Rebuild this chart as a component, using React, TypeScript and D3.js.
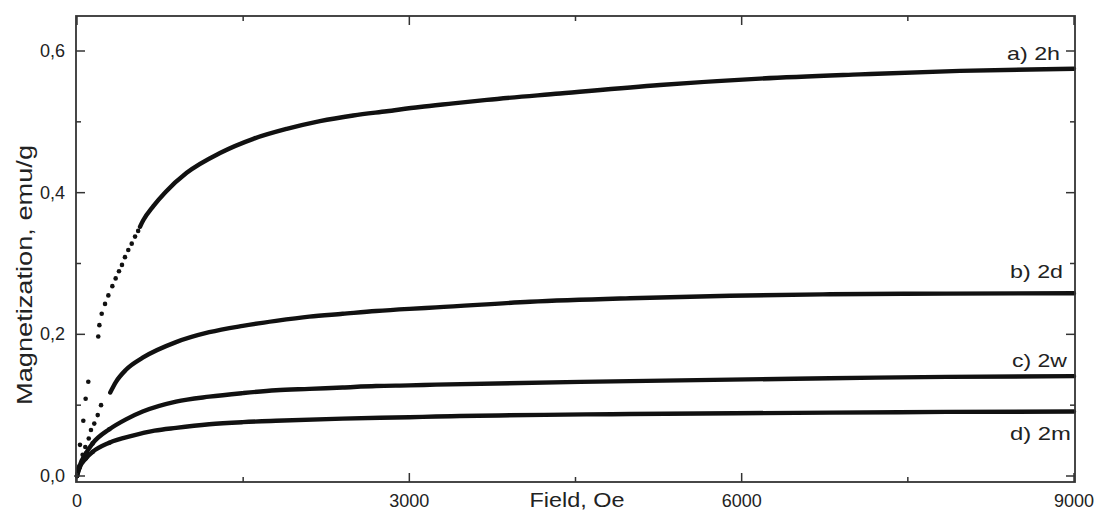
import React from "react";
import * as d3 from "d3";

// values: [field (Oe), magnetization (emu/g)]
// low-field points are sparse and show as single dots; the rest is a dense trace
const dots2h: [number, number][] = [
  [0, 0], [12, 0.011], [27, 0.044], [57, 0.078], [78, 0.109], [102, 0.133],
  [192, 0.197], [202, 0.213], [223, 0.229], [253, 0.243], [283, 0.255],
  [319, 0.268], [349, 0.279], [379, 0.289], [406, 0.298], [433, 0.309],
  [463, 0.319], [494, 0.328], [524, 0.338], [552, 0.346],
];
const trace2h: [number, number][] = [
  [569, 0.352], [598, 0.361], [689, 0.381], [800, 0.401], [990, 0.428],
  [1291, 0.456], [1592, 0.476], [1893, 0.49], [2193, 0.501], [2494, 0.509],
  [2796, 0.515], [3096, 0.521], [3397, 0.526], [3700, 0.531], [4360, 0.54],
  [5263, 0.552], [6165, 0.561], [7068, 0.567], [7971, 0.572], [9000, 0.575],
];

const dots2d: [number, number][] = [
  [0, 0], [22, 0.014], [51, 0.03], [75, 0.041], [106, 0.053], [126, 0.065],
  [156, 0.074], [187, 0.086], [217, 0.1],
];
const trace2d: [number, number][] = [
  [300, 0.118], [352, 0.133], [442, 0.15], [593, 0.167], [894, 0.189],
  [1194, 0.203], [1496, 0.212], [1796, 0.219], [2097, 0.225], [2398, 0.229],
  [2699, 0.233], [3000, 0.236], [3241, 0.238], [4089, 0.246], [4992, 0.251],
  [5895, 0.2545], [6797, 0.2565], [7851, 0.2575], [9000, 0.258],
];

const trace2w: [number, number][] = [
  [0, 0], [21, 0.013], [81, 0.032], [141, 0.046], [292, 0.066], [442, 0.08],
  [593, 0.091], [894, 0.105], [1194, 0.112], [1496, 0.117], [1796, 0.121],
  [2097, 0.123], [2398, 0.125], [2699, 0.127], [3000, 0.128], [3241, 0.129],
  [4992, 0.134], [6797, 0.138], [7851, 0.14], [9000, 0.141],
];

const trace2m: [number, number][] = [
  [0, 0], [21, 0.011], [81, 0.025], [141, 0.034], [292, 0.047], [503, 0.057],
  [700, 0.064], [894, 0.068], [1194, 0.073], [1496, 0.076], [1796, 0.078],
  [2398, 0.081], [3000, 0.083], [3241, 0.084], [4992, 0.0875], [6797, 0.0894],
  [7851, 0.0905], [9000, 0.091],
];

const seriesLabels = ["a) 2h", "b) 2d", "c) 2w", "d) 2m"];
const xMajor = [0, 3000, 6000, 9000];
const xMinor = [1500, 4500, 7500];
const yMajor = [0, 0.2, 0.4, 0.6];
const yMinor = [0.1, 0.3, 0.5];

const W = 1096;
const H = 511;
const frame = { left: 76, right: 1075, top: 16, bottom: 482 };
const ink = "#111";
const axisInk = "#333";
const font = "'Liberation Sans', Arial, sans-serif";

// label placement next to the right ends: [right x, baseline y, text width]
const labelPos: [number, number, number][] = [
  [1060, 60, 53],
  [1063, 278, 53],
  [1067, 367, 55],
  [1071, 440, 61],
];

export default function App() {
  const x = d3.scaleLinear().domain([0, 9000]).range([77, 1074]);
  const y = d3.scaleLinear().domain([0, 0.6]).range([476, 51]);

  const line = d3
    .line<[number, number]>()
    .x((d) => x(d[0]))
    .y((d) => y(d[1]))
    .curve(d3.curveMonotoneX);

  const traces = [trace2h, trace2d, trace2w, trace2m];
  const dots = [...dots2h, ...dots2d, ...trace2w.slice(0, 5), ...trace2m.slice(0, 5)];
  const fmt = (v: number) => v.toFixed(1).replace(".", ",");

  return (
    <svg
      width={W}
      height={H}
      style={{ position: "absolute", left: 0, top: 0, background: "#fff" }}
    >
      <rect x={0} y={0} width={W} height={H} fill="#fff" />

      {traces.map((t, i) => (
        <path
          key={"t" + i}
          d={line(t) || ""}
          fill="none"
          stroke={ink}
          strokeWidth={4.4}
          strokeLinecap="round"
          strokeLinejoin="round"
        />
      ))}
      {dots.map((d, i) => (
        <circle key={"d" + i} cx={x(d[0])} cy={y(d[1])} r={2.3} fill={ink} />
      ))}

      {/* frame */}
      <rect
        x={frame.left}
        y={frame.top}
        width={frame.right - frame.left}
        height={frame.bottom - frame.top}
        fill="none"
        stroke={axisInk}
        strokeWidth={1.8}
      />

      {/* ticks, pointing inward on all four sides */}
      {xMajor.concat(xMinor).map((v) => {
        const len = xMajor.includes(v) ? 9 : 5;
        return (
          <g key={"xt" + v} stroke={axisInk} strokeWidth={1.5}>
            <line x1={x(v)} x2={x(v)} y1={frame.bottom} y2={frame.bottom - len} />
            <line x1={x(v)} x2={x(v)} y1={frame.top} y2={frame.top + len} />
          </g>
        );
      })}
      {yMajor.concat(yMinor).map((v) => {
        const len = yMajor.includes(v) ? 9 : 5;
        return (
          <g key={"yt" + v} stroke={axisInk} strokeWidth={1.5}>
            <line x1={frame.left} x2={frame.left + len} y1={y(v)} y2={y(v)} />
            <line x1={frame.right} x2={frame.right - len} y1={y(v)} y2={y(v)} />
          </g>
        );
      })}

      {/* tick labels */}
      <g fontFamily={font} fontSize={18} fill="#222">
        {xMajor.map((v) => (
          <text key={"xl" + v} x={x(v)} y={507} textAnchor="middle">
            {v}
          </text>
        ))}
        {yMajor.map((v) => (
          <text key={"yl" + v} x={65} y={y(v) + 6} textAnchor="end">
            {fmt(v)}
          </text>
        ))}
      </g>

      {/* axis titles */}
      <text
        x={577}
        y={507}
        textAnchor="middle"
        fontFamily={font}
        fontSize={20}
        fill="#222"
        textLength={95}
        lengthAdjust="spacingAndGlyphs"
      >
        Field, Oe
      </text>
      <text
        transform={`translate(32,275) rotate(-90)`}
        textAnchor="middle"
        fontFamily={font}
        fontSize={22}
        fill="#222"
        textLength={260}
        lengthAdjust="spacingAndGlyphs"
      >
        Magnetization, emu/g
      </text>

      {/* series labels */}
      {seriesLabels.map((s, i) => (
        <text
          key={s}
          x={labelPos[i][0]}
          y={labelPos[i][1]}
          textAnchor="end"
          fontFamily={font}
          fontSize={19}
          fill="#222"
          textLength={labelPos[i][2]}
          lengthAdjust="spacingAndGlyphs"
        >
          {s}
        </text>
      ))}
    </svg>
  );
}
